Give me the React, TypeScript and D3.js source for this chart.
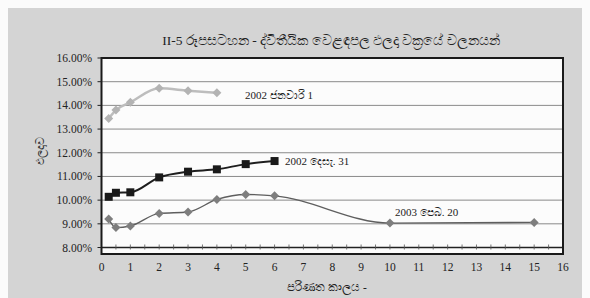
import React from "react";
import * as d3 from "d3";

// Yield curve data (maturity in years, yield in %)
const maturitiesJan2002 = [0.25, 0.5, 1, 2, 3, 4];
const yieldsJan2002 = [13.45, 13.8, 14.13, 14.72, 14.62, 14.53];

const maturitiesDec2002 = [0.25, 0.5, 1, 2, 3, 4, 5, 6];
const yieldsDec2002 = [10.14, 10.31, 10.33, 10.96, 11.2, 11.3, 11.52, 11.65];

const maturitiesFeb2003 = [0.25, 0.5, 1, 2, 3, 4, 5, 6, 10, 15];
const yieldsFeb2003 = [9.2, 8.84, 8.91, 9.44, 9.5, 10.03, 10.24, 10.18, 9.03, 9.06];

const xTicks = d3.range(0, 17);
const yTicks = [8, 9, 10, 11, 12, 13, 14, 15, 16];
const minorXTicks = d3.range(0, 16.01, 0.5);

const title = "II-5 රූපසටහන - ද්විතීයික වෙළඳපල ඵලදා වක්‍රයේ චලනයන්";
const xTitle = "පරිණත කාලය -";
const yTitle = "ඵලදාව";
const seriesLabels = ["2002 ජනවාරි 1", "2002 දෙසැ. 31", "2003 පෙබ. 20"];

const W = 590;
const H = 298;
const left = 101.5;
const right = 563;
const top = 58;
const axisY = 247.5;
const frameBottom = 254;

const x = d3.scaleLinear().domain([0, 16]).range([left, right]);
const y = d3.scaleLinear().domain([8, 16]).range([axisY, top]);

const line = d3
  .line<[number, number]>()
  .x((d) => x(d[0]))
  .y((d) => y(d[1]))
  .curve(d3.curveMonotoneX);

const zip = (a: number[], b: number[]) => a.map((v, i) => [v, b[i]] as [number, number]);

const diamond = (cx: number, cy: number, r: number) =>
  `M${cx},${cy - r}L${cx + r},${cy}L${cx},${cy + r}L${cx - r},${cy}Z`;

const serif = "'Liberation Serif', 'DejaVu Serif', serif";

export default function App() {
  const s1 = zip(maturitiesJan2002, yieldsJan2002);
  const s2 = zip(maturitiesDec2002, yieldsDec2002);
  const s3 = zip(maturitiesFeb2003, yieldsFeb2003);

  return (
    <svg
      width={W}
      height={H}
      style={{ position: "absolute", left: 0, top: 0, background: "#fbfbfb" }}
      fontFamily={serif}
    >
      <rect x={8} y={8} width={574} height={290} fill="#d4d4d4" />
      <text x={331} y={45} textAnchor="middle" fontSize={13.5} fill="#222">
        {title}
      </text>

      {/* plot area */}
      <rect x={left} y={top} width={right - left} height={frameBottom - top} fill="#fcfcfc" />
      {yTicks
        .filter((t) => t > 8 && t < 16)
        .map((t) => (
          <line key={t} x1={left} x2={right} y1={y(t)} y2={y(t)} stroke="#8a8a8a" strokeWidth={1} />
        ))}

      {/* x axis at 8% */}
      <line x1={left} x2={right} y1={axisY} y2={axisY} stroke="#222" strokeWidth={1.5} />
      {minorXTicks.map((t) => (
        <line key={t} x1={x(t)} x2={x(t)} y1={axisY - 3} y2={axisY + 2} stroke="#555" strokeWidth={0.8} />
      ))}

      {/* frame */}
      <rect
        x={left}
        y={top}
        width={right - left}
        height={frameBottom - top}
        fill="none"
        stroke="#1a1a1a"
        strokeWidth={2}
      />

      {/* y ticks + labels */}
      {yTicks.map((t) => (
        <g key={t}>
          <line x1={left - 4} x2={left} y1={y(t)} y2={y(t)} stroke="#222" strokeWidth={1} />
          <text x={92} y={y(t) + 4} textAnchor="end" fontSize={11.5} fill="#222">
            {t.toFixed(2)}%
          </text>
        </g>
      ))}

      {/* x labels */}
      {xTicks.map((t) => (
        <text key={t} x={x(t)} y={271} textAnchor="middle" fontSize={11.5} fill="#222">
          {t}
        </text>
      ))}

      <text x={327} y={291} textAnchor="middle" fontSize={11.5} fill="#222">
        {xTitle}
      </text>
      <text
        transform={`translate(44,151) rotate(-90)`}
        textAnchor="middle"
        fontSize={11}
        fill="#333"
      >
        {yTitle}
      </text>

      {/* series: 2002 Jan 1 */}
      <path d={line(s1) || ""} fill="none" stroke="#bdbdbd" strokeWidth={2.5} />
      {s1.map((d, i) => (
        <path key={i} d={diamond(x(d[0]), y(d[1]), 4.5)} fill="#b3b3b3" />
      ))}

      {/* series: 2002 Dec 31 */}
      <path d={line(s2) || ""} fill="none" stroke="#1e1e1e" strokeWidth={2} />
      {s2.map((d, i) => (
        <rect key={i} x={x(d[0]) - 4} y={y(d[1]) - 4} width={8} height={8} fill="#1a1a1a" />
      ))}

      {/* series: 2003 Feb 20 */}
      <path d={line(s3) || ""} fill="none" stroke="#5e5e5e" strokeWidth={1.4} />
      {s3.map((d, i) => (
        <path key={i} d={diamond(x(d[0]), y(d[1]), 4.5)} fill="#7e7e7e" />
      ))}

      {/* labels */}
      <text x={245} y={99} fontSize={11} fill="#222">
        {seriesLabels[0]}
      </text>
      <text x={285} y={165} fontSize={11} fill="#222">
        {seriesLabels[1]}
      </text>
      <text x={395} y={216} fontSize={11} fill="#222">
        {seriesLabels[2]}
      </text>
    </svg>
  );
}
